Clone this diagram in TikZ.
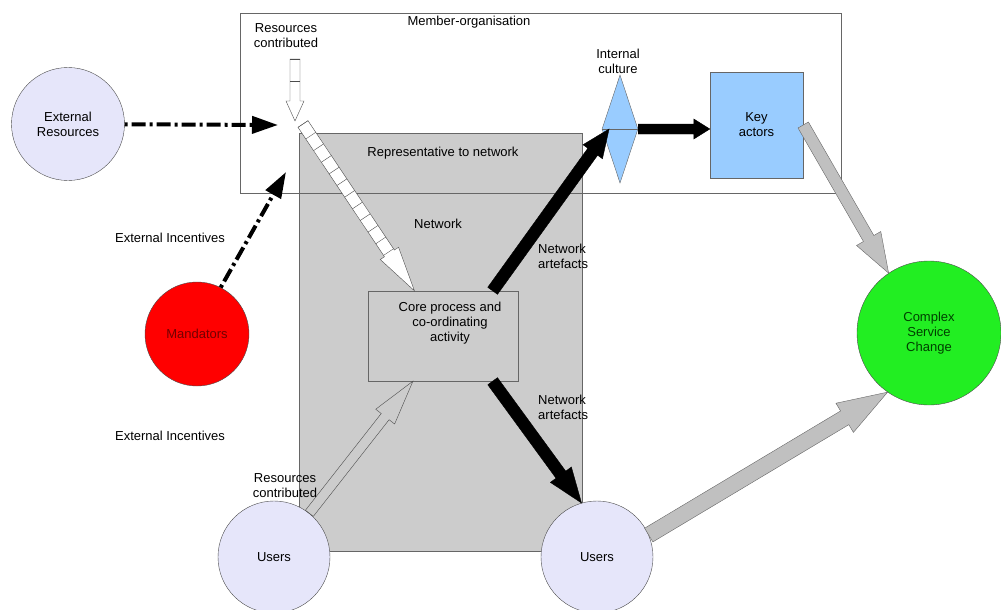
\documentclass[tikz,border=0pt]{standalone}
\usepackage{fontspec}
\setmainfont{Liberation Sans}
\usetikzlibrary{shapes.geometric,arrows.meta,calc,decorations.pathreplacing}

\definecolor{lav}{RGB}{230,230,250}
\definecolor{netgray}{RGB}{204,204,204}
\definecolor{skyblue}{RGB}{153,204,255}
\definecolor{brightgreen}{RGB}{34,238,34}
\definecolor{arrowgray}{RGB}{192,192,192}

\tikzset{
  every node/.style={font=\fontsize{13}{15}\selectfont},
  txt/.style={align=center, inner sep=0pt},
  blob/.style={circle, draw=black!70, fill=lav, inner sep=0pt, minimum size=112pt},
  box/.style={rectangle, draw=black!60, inner sep=0pt},
  dashdot/.style={line width=4pt, dash pattern=on 3pt off 4pt on 14pt off 4pt,
    -{Triangle[length=26pt,width=17pt]}},
  blackarr/.style={fill=black, draw=black},
  grayarr/.style={fill=arrowgray, draw=black!60},
  hollowarr/.style={draw=black!70},
  whitearr/.style={fill=white, draw=black!70},
}

% block arrow: style, half shaft, half head, head length, from, to
\newcommand\blockarrow[6]{%
  \coordinate (ba) at ($(#6)!#4!(#5)$);
  \draw[#1] ($(#5)!#2!90:(#6)$) -- ($(ba)!#2!90:(#6)$) -- ($(ba)!#3!90:(#6)$)
    -- (#6) -- ($(ba)!#3!-90:(#6)$) -- ($(ba)!#2!-90:(#6)$)
    -- ($(#5)!#2!-90:(#6)$) -- cycle;}

\begin{document}
\begin{tikzpicture}[x=1pt, y=-1pt]
  \useasboundingbox (0,0) rectangle (1001,610);

  \node[box, fill=netgray, minimum width=283pt, minimum height=418pt] (network) at (440.5,342) {};
  \node[box, minimum width=601pt, minimum height=180pt] (member) at (540.5,103) {};
  \node[box, fill=netgray, minimum width=150pt, minimum height=90pt] (core) at (443,336) {};
  \node[diamond, draw=black!60, fill=skyblue, inner sep=0pt, minimum width=36pt, minimum height=108pt] (culture) at (620,129) {};
  \draw[black!60] (culture.west) -- (culture.east);
  \node[box, fill=skyblue, minimum width=93pt, minimum height=106pt, align=center] (key) at (756.5,125) {Key\\actors};

  \node[blob, minimum size=113pt, align=center] (extres) at (68,124) {External\\Resources};
  \node[blob, fill=red, minimum size=104pt, text=red!45!black] (mand) at (197,334) {Mandators};
  \node[blob] (users1) at (274,557) {Users};
  \node[blob] (users2) at (597,557) {Users};
  \node[blob, fill=brightgreen, minimum size=144pt, align=center, text=black!75!green] (complex) at (929,333) {Complex\\Service\\Change};

  \node[txt] (memberlbl) at (469,22) {Member-organisation};
  \node[txt] (rctop) at (286,36) {Resources\\contributed};
  \node[txt] (replbl) at (443,153) {Representative to network};
  \node[txt] (netlbl) at (438,224) {Network};
  \node[txt] (corelbl) at (450,323) {Core process and\\co-ordinating\\activity};
  \node[txt] (cultlbl) at (618,61) {Internal\\culture};
  \node[txt, align=left, anchor=west] (art1) at (538,256) {Network\\artefacts};
  \node[txt, align=left, anchor=west] (art2) at (538,407) {Network\\artefacts};
  \node[txt] (inc1) at (170,238) {External Incentives};
  \node[txt] (inc2) at (170,436) {External Incentives};
  \node[txt] (rcbot) at (285,486) {Resources\\contributed};

  \coordinate (rcstart) at (295,59);
  \coordinate (hubin) at (295,121);
  \coordinate (hubout) at (303,124);
  \coordinate (hubw) at (278,125);
  \coordinate (hubs) at (286,172);
  \coordinate (corein) at ($(core.north west)!0.31!(core.north east)$);
  \coordinate (coreup) at ($(core.north west)!0.83!(core.north east)$);
  \coordinate (coredown) at ($(core.south west)!0.83!(core.south east)$);
  \coordinate (corebot) at ($(core.south west)!0.3!(core.south east)$);
  \coordinate (cultin) at ($(culture.west)!0.4!(culture.center)$);

  \draw[dashdot] (extres) -- (hubw);
  \draw[dashdot] (mand.63) -- (hubs);

  \blockarrow{whitearr}{5pt}{9pt}{20pt}{rcstart}{hubin}
  \draw[black!70, decorate, decoration={ticks, segment length=22pt, amplitude=5pt}] (rcstart) -- (ba);
  \blockarrow{whitearr}{6pt}{11pt}{45pt}{hubout}{corein}
  \draw[black!70, decorate, decoration={ticks, segment length=14pt, amplitude=6pt}] (hubout) -- (ba);

  \blockarrow{hollowarr}{5pt}{12pt}{45pt}{users1.51}{corebot}
  \blockarrow{blackarr}{6pt}{12pt}{28pt}{coreup}{cultin}
  \blockarrow{blackarr}{6pt}{13pt}{35pt}{coredown}{users2.106}
  \blockarrow{blackarr}{5pt}{10pt}{16pt}{culture.east}{culture.east -| key.west}
  \blockarrow{grayarr}{6pt}{14pt}{40pt}{key.east}{complex.124}
  \blockarrow{grayarr}{8pt}{17pt}{50pt}{users2.23}{complex.235}
\end{tikzpicture}
\end{document}
